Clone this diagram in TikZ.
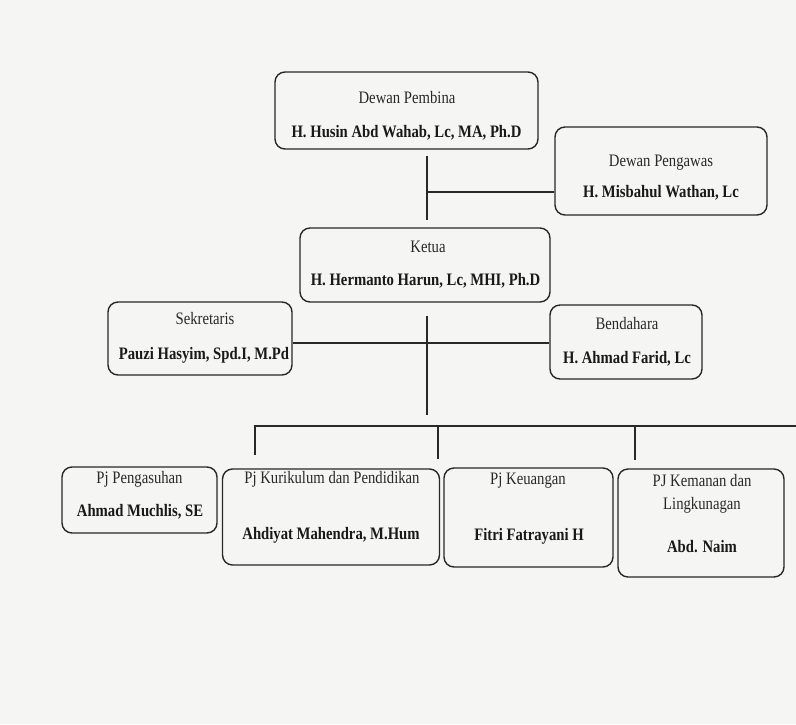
\documentclass[tikz,border=0pt]{standalone}
\usepackage{fontspec}
\setmainfont{Liberation Serif}[FakeStretch=0.84]
\definecolor{garis}{RGB}{40,40,40}
\definecolor{latar}{RGB}{245,245,243}
\newcommand{\hurufpj}{\fontsize{17.5}{21}\selectfont}
\tikzset{
  kotak/.style={draw=garis, line width=1.4pt, rounded corners=10pt, inner sep=0pt},
  jabatan/.style={anchor=mid, inner sep=0pt, font=\hurufpj, text=garis},
  nama/.style={anchor=mid, inner sep=0pt, font=\hurufpj\bfseries, text=black!90},
  hubung/.style={draw=garis, line width=1.1pt}
}

\begin{document}
\begin{tikzpicture}[x=1pt, y=-1pt]
    \fill[latar] (0,0) rectangle (796,724);
    \useasboundingbox (0,0) rectangle (796,724);

    % kotak pengurus
    \node[kotak, minimum width=263pt, minimum height=77pt] (pembina) at (406.5,110.5) {};
    \node[jabatan] (pembina-j) at (407,101) {Dewan Pembina};
    \node[nama] (pembina-n) at (406.5,135) {H. Husin Abd Wahab, Lc, MA, Ph.D};

    \node[kotak, minimum width=212pt, minimum height=88pt] (pengawas) at (661,171) {};
    \node[jabatan] (pengawas-j) at (661,164) {Dewan Pengawas};
    \node[nama] (pengawas-n) at (661,195) {H. Misbahul Wathan, Lc};

    \node[kotak, minimum width=250pt, minimum height=74pt] (ketua) at (425,265) {};
    \node[jabatan] (ketua-j) at (428,250) {Ketua};
    \node[nama] (ketua-n) at (425.5,283) {H. Hermanto Harun, Lc, MHI, Ph.D};

    \node[kotak, minimum width=184pt, minimum height=73pt] (sekretaris) at (200,338.5) {};
    \node[jabatan] (sekretaris-j) at (205,322) {Sekretaris};
    \node[nama] (sekretaris-n) at (204,357) {Pauzi Hasyim, Spd.I, M.Pd};

    \node[kotak, minimum width=152pt, minimum height=74pt] (bendahara) at (626,342) {};
    \node[jabatan] (bendahara-j) at (627,327) {Bendahara};
    \node[nama] (bendahara-n) at (627,361) {H. Ahmad Farid, Lc};

    % kotak penanggung jawab
    \node[kotak, minimum width=155pt, minimum height=66pt] (pengasuhan) at (139.5,500) {};
    \node[jabatan] (pengasuhan-j) at (139.5,481) {Pj Pengasuhan};
    \node[nama] (pengasuhan-n) at (140,514) {Ahmad Muchlis, SE};

    \node[kotak, minimum width=217pt, minimum height=96pt] (kurikulum) at (331,517) {};
    \node[jabatan] (kurikulum-j) at (332,481) {Pj Kurikulum dan Pendidikan};
    \node[nama] (kurikulum-n) at (331,537) {Ahdiyat Mahendra, M.Hum};

    \node[kotak, minimum width=169pt, minimum height=99pt] (keuangan) at (528.5,517.5) {};
    \node[jabatan] (keuangan-j) at (528,482) {Pj Keuangan};
    \node[nama] (keuangan-n) at (529,538) {Fitri Fatrayani H};

    \node[kotak, minimum width=166pt, minimum height=108pt] (kemanan) at (701,523) {};
    \node[jabatan] (kemanan-j) at (702,484) {PJ Kemanan dan};
    \node[jabatan] (kemanan-j2) at (702,507) {Lingkunagan};
    \node[nama] (kemanan-n) at (702,550) {Abd. Naim};

    % garis penghubung
    \coordinate (pusat) at (427,343);
    \coordinate (cabang) at (427,192);
    \coordinate (turun) at (427,415);
    \coordinate (bus-kiri) at (255,426);
    \coordinate (bus-kanan) at (796,426);
    \coordinate (ujung1) at (255,455);
    \coordinate (ujung2) at (438,459);
    \coordinate (ujung3) at (635,460);

    \draw[hubung, shorten <=6pt, shorten >=7pt] (pembina.south -| pusat) -- (ketua.north -| pusat);
    \draw[hubung] (cabang) -- (cabang -| pengawas.west);
    \draw[hubung] (sekretaris.east |- pusat) -- (bendahara.west |- pusat);
    \draw[hubung, shorten <=13pt] (ketua.south -| pusat) -- (turun);
    \draw[hubung] (ujung1) -- (bus-kiri) -- (bus-kanan);
    \foreach \u in {ujung2, ujung3}
        \draw[hubung] (\u |- bus-kiri) -- (\u);
\end{tikzpicture}
\end{document}
